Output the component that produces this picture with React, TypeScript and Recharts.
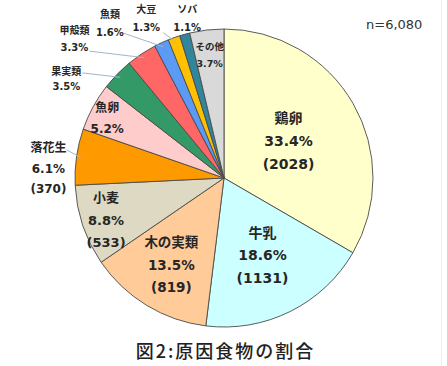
import { Cell, Pie, PieChart } from "recharts";

const categories = ["鶏卵", "牛乳", "木の実類", "小麦", "落花生", "魚卵", "果実類", "甲殻類", "魚類", "大豆", "ソバ", "その他"];
const percents = [33.4, 18.6, 13.5, 8.8, 6.1, 5.2, 3.5, 3.3, 1.6, 1.3, 1.1, 3.7];
const counts: (number | null)[] = [2028, 1131, 819, 533, 370, null, null, null, null, null, null, null];
const totalN = "n=6,080";
const title = "図2:原因食物の割合";

const COLORS = ["#FFFFCC", "#CCFFFF", "#FFCC99", "#DDD9C3", "#FF9900", "#FFCCCC", "#339966", "#FF6666", "#5B9BF5", "#FFC000", "#31859C", "#D9D9D9"];

// label placement: r = fraction of outer radius, shift = degrees clockwise from slice middle
type LabelSpec = { r: number; shift: number; size: number; gap: number; lead?: [number, number] };
const LABELS: Record<string, LabelSpec> = {
  鶏卵: { r: 0.5, shift: 0, size: 14, gap: 23 },
  牛乳: { r: 0.58, shift: 0, size: 14, gap: 22.5 },
  木の実類: { r: 0.68, shift: 0, size: 13.5, gap: 22.5 },
  小麦: { r: 0.84, shift: -1, size: 13, gap: 22.5 },
  落花生: { r: 1.18, shift: -5.2, size: 12, gap: 20.5, lead: [18, -19] },
  魚卵: { r: 0.88, shift: -1.5, size: 12, gap: 21 },
  果実類: { r: 1.25, shift: -12, size: 10, gap: 15.5, lead: [16, -6] },
  甲殻類: { r: 1.37, shift: -13.5, size: 10, gap: 17, lead: [15, 12] },
  魚類: { r: 1.29, shift: -11.6, size: 10, gap: 18, lead: [14, 10] },
  大豆: { r: 1.19, shift: -6.4, size: 10, gap: 18, lead: [17, 14] },
  ソバ: { r: 1.1, shift: 2.3, size: 10, gap: 18 },
  その他: { r: 0.83, shift: 0, size: 9.5, gap: 17 },
};

const data = categories.map((name, i) => ({ name, value: percents[i] }));

const FONT = "'DejaVu Sans', 'Noto Sans CJK JP', sans-serif";
const RAD = Math.PI / 180;

function renderLabel(props: any) {
  const { cx, cy, midAngle, outerRadius, index } = props;
  const name = categories[index];
  const spec = LABELS[name];
  const a = (midAngle - spec.shift) * RAD;
  const x = cx + outerRadius * spec.r * Math.cos(a);
  const y = cy - outerRadius * spec.r * Math.sin(a);
  const lines = [name, `${percents[index].toFixed(1)}%`];
  if (counts[index] != null) lines.push(`(${counts[index]})`);
  const top = y - ((lines.length - 1) * spec.gap) / 2;

  let leader = null;
  if (spec.lead) {
    const m = midAngle * RAD;
    const ex = cx + outerRadius * 0.97 * Math.cos(m);
    const ey = cy - outerRadius * 0.97 * Math.sin(m);
    leader = <line x1={x + spec.lead[0]} y1={y + spec.lead[1]} x2={ex} y2={ey} stroke="#A3B6C9" strokeWidth={1} />;
  }

  return (
    <g key={`lbl-${index}`}>
      {leader}
      {lines.map((t, i) => (
        <text
          key={i}
          x={x}
          y={top + i * spec.gap}
          textAnchor="middle"
          dominantBaseline="central"
          fontFamily={FONT}
          fontWeight="bold"
          fontSize={spec.size}
          fill="#262626"
        >
          {t}
        </text>
      ))}
    </g>
  );
}

export default function App() {
  return (
    <div style={{ position: "absolute", left: 0, top: 0, width: 447, height: 366, background: "#fff", overflow: "hidden" }}>
      <style>{`.food-pie .recharts-pie-sectors { filter: drop-shadow(2px 2px 2px rgba(0,0,0,0.35)); }`}</style>
      <div className="food-pie">
        <PieChart width={447} height={366} margin={{ top: 0, right: 0, bottom: 0, left: 0 }}>
          <Pie
            data={data}
            dataKey="value"
            nameKey="name"
            cx={224}
            cy={178}
            outerRadius={149}
            startAngle={90}
            endAngle={-270}
            stroke="#4a4a4a"
            strokeWidth={0.9}
            label={renderLabel}
            labelLine={false}
            isAnimationActive={false}
          >
            {data.map((d, i) => (
              <Cell key={d.name} fill={COLORS[i]} />
            ))}
          </Pie>
        </PieChart>
      </div>
      <div
        style={{
          position: "absolute",
          left: 366,
          top: 17,
          fontFamily: FONT,
          fontSize: 13,
          color: "#333",
          lineHeight: "16px",
        }}
      >
        {totalN}
      </div>
      <div
        style={{
          position: "absolute",
          left: 0,
          width: 451,
          top: 338,
          textAlign: "center",
          fontFamily: "'Noto Sans CJK JP', sans-serif",
          fontSize: 18,
          fontWeight: 500,
          letterSpacing: 2,
          color: "#222",
          lineHeight: "24px",
        }}
      >
        {title}
      </div>
      <div style={{ position: "absolute", left: 441, top: 0, width: 1, height: 366, background: "#eee" }} />
    </div>
  );
}
